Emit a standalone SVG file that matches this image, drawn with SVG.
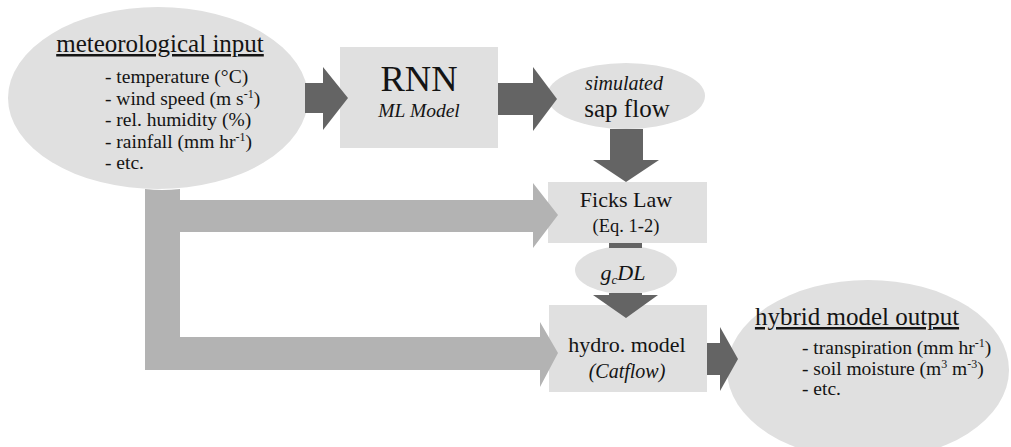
<svg xmlns="http://www.w3.org/2000/svg" width="1011" height="447" viewBox="0 0 1011 447">
<style>
.node{fill:#e0e0e0;}
.t{fill:#141414;font-family:"Liberation Serif","Times New Roman",serif;}
.i{font-style:italic;}
.dark{fill:#646464;}
.light{fill:#b3b3b3;}
</style>
<rect width="1011" height="447" fill="#ffffff"/>
<g id="meteorological-input">
<ellipse class="node" cx="158" cy="98" rx="150" ry="91"/>
<text class="t" x="160" y="52" font-size="25" text-anchor="middle" text-decoration="underline">meteorological input</text>
<text class="t" font-size="19.5">
<tspan x="105" y="83">- temperature (°C)</tspan>
<tspan x="105" y="104.5">- wind speed (m s<tspan dy="-7" font-size="12">-1</tspan><tspan dy="7">)</tspan></tspan>
<tspan x="105" y="126">- rel. humidity (%)</tspan>
<tspan x="105" y="147.5">- rainfall (mm hr<tspan dy="-7" font-size="12">-1</tspan><tspan dy="7">)</tspan></tspan>
<tspan x="105" y="169">- etc.</tspan>
</text>
</g>
<g id="rnn">
<rect class="node" x="340" y="47" width="158" height="101"/>
<text class="t" x="419" y="91" font-size="36.5" text-anchor="middle">RNN</text>
<text class="t i" x="419" y="117" font-size="19.5" text-anchor="middle">ML Model</text>
</g>
<g id="sap-flow">
<ellipse class="node" cx="626" cy="96" rx="79" ry="33"/>
<text class="t i" x="624" y="90" font-size="20" text-anchor="middle">simulated</text>
<text class="t" x="627" y="117" font-size="25" text-anchor="middle">sap flow</text>
</g>
<g id="ficks-law">
<rect class="node" x="548" y="182" width="159" height="61"/>
<text class="t" x="626" y="207" font-size="22" text-anchor="middle">Ficks Law</text>
<text class="t" x="626" y="232" font-size="18.5" text-anchor="middle">(Eq. 1-2)</text>
</g>
<g id="gcdl">
<ellipse class="node" cx="626" cy="270" rx="51" ry="24"/>
<text class="t i" x="623" y="280" font-size="22" text-anchor="middle">g<tspan dy="4" font-size="13">c</tspan><tspan dy="-4">DL</tspan></text>
</g>
<g id="hydro-model">
<rect class="node" x="549" y="305" width="158" height="87"/>
<text class="t" x="627" y="352" font-size="22" text-anchor="middle">hydro. model</text>
<text class="t i" x="627" y="378" font-size="20" text-anchor="middle">(Catflow)</text>
</g>
<g id="hybrid-model-output">
<ellipse class="node" cx="868" cy="370" rx="141" ry="90"/>
<text class="t" x="857" y="325" font-size="25" text-anchor="middle" text-decoration="underline">hybrid model output</text>
<text class="t" font-size="19.5">
<tspan x="802" y="354">- transpiration (mm hr<tspan dy="-7" font-size="12">-1</tspan><tspan dy="7">)</tspan></tspan>
<tspan x="802" y="374.5">- soil moisture (m<tspan dy="-7" font-size="12">3</tspan><tspan dy="7"> m</tspan><tspan dy="-7" font-size="12">-3</tspan><tspan dy="7">)</tspan></tspan>
<tspan x="802" y="395">- etc.</tspan>
</text>
</g>
<g id="connectors">
<path class="light" d="M145,189 Q162,191 180,189 L180,200 L533,200 L533,183 L558,215 L533,248 L533,232 L180,232 L180,337 L540,337 L540,322 L558,353 L540,387 L540,370 L145,370 Z"/>
<polygon class="dark" points="305,83 323,83 323,67 348,98 323,130 323,113 305,113"/>
<polygon class="dark" points="498,83 533,83 533,67 557,99 533,131 533,115 498,115"/>
<polygon class="dark" points="610,129 643,129 643,160 659,160 626,182 593,160 610,160"/>
<rect class="dark" x="609" y="243" width="33" height="5"/>
<polygon class="dark" points="609,293 642,293 642,295 658,295 626,318 593,295 609,295"/>
<polygon class="dark" points="707,343 720,343 720,327 738,359 720,391 720,375 707,375"/>
</g>
</svg>
